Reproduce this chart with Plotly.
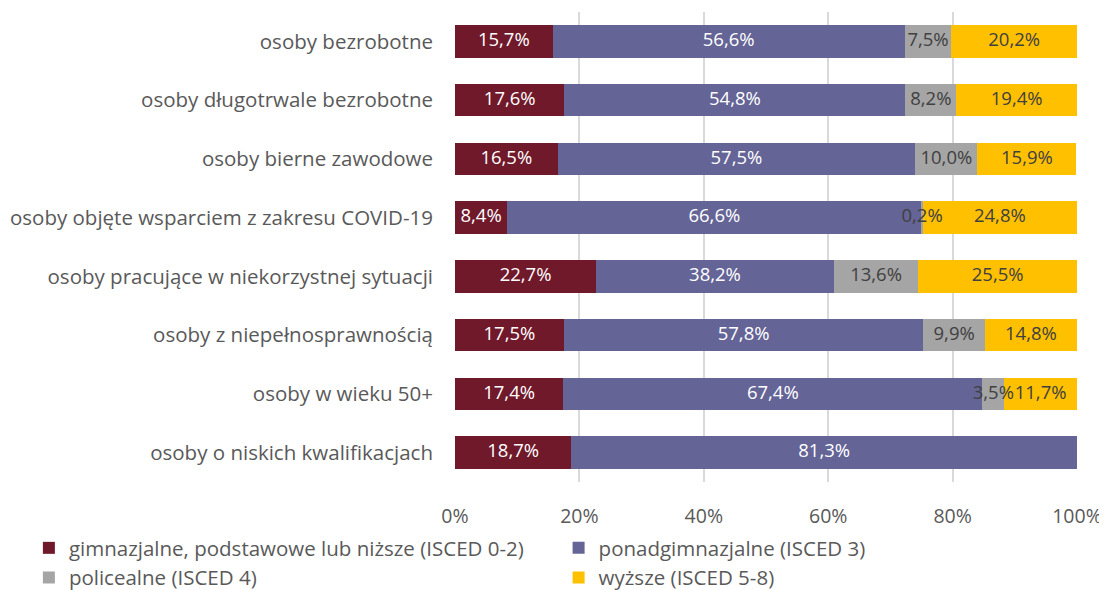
import plotly.graph_objects as go

categories = [
    "osoby bezrobotne",
    "osoby długotrwale bezrobotne",
    "osoby bierne zawodowe",
    "osoby objęte wsparciem z zakresu COVID-19",
    "osoby pracujące w niekorzystnej sytuacji",
    "osoby z niepełnosprawnością",
    "osoby w wieku 50+",
    "osoby o niskich kwalifikacjach",
]
series_names = [
    "gimnazjalne, podstawowe lub niższe (ISCED 0-2)",
    "ponadgimnazjalne (ISCED 3)",
    "policealne (ISCED 4)",
    "wyższe (ISCED 5-8)",
]
isced_0_2 = [15.7, 17.6, 16.5, 8.4, 22.7, 17.5, 17.4, 18.7]
isced_3 = [56.6, 54.8, 57.5, 66.6, 38.2, 57.8, 67.4, 81.3]
isced_4 = [7.5, 8.2, 10.0, 0.2, 13.6, 9.9, 3.5, None]
isced_5_8 = [20.2, 19.4, 15.9, 24.8, 25.5, 14.8, 11.7, None]
tick_vals = [0, 20, 40, 60, 80, 100]
tick_text = ["0%", "20%", "40%", "60%", "80%", "100%"]

colors = ["#70192B", "#646496", "#A5A5A5", "#FFC000"]
text_colors = ["#FFFFFF", "#FFFFFF", "#404040", "#404040"]
legend_ids = ["legend", "legend2", "legend", "legend2"]
FONT = "Open Sans"

all_series = [isced_0_2, isced_3, isced_4, isced_5_8]

fig = go.Figure()
for name, vals, c, lg in zip(series_names, all_series, colors, legend_ids):
    fig.add_trace(go.Bar(
        y=categories, x=vals, name=name, orientation="h",
        marker=dict(color=c, line=dict(width=0)),
        legend=lg, hoverinfo="x+y+name",
    ))

# data labels: centred on each segment, drawn above all bars
base = [0.0] * len(categories)
for vals, tc in zip(all_series, text_colors):
    xs, ys, ts = [], [], []
    for i, v in enumerate(vals):
        if v is None:
            continue
        xs.append(base[i] + v / 2)
        ys.append(categories[i])
        ts.append(f"{v:.1f}%".replace(".", ","))
        base[i] += v
    fig.add_trace(go.Scatter(
        x=xs, y=ys, text=ts, mode="text", showlegend=False,
        textposition="middle center", cliponaxis=False,
        textfont=dict(color=tc, size=18.5, family=FONT), hoverinfo="skip",
    ))

fig.update_layout(
    barmode="stack",
    bargap=0.45,
    width=1099, height=582,
    margin=dict(l=447, r=30, t=4, b=108, autoexpand=False),
    plot_bgcolor="white", paper_bgcolor="white",
    font=dict(family=FONT, size=19, color="#595959"),
    xaxis=dict(range=[0, 100], tickvals=tick_vals, ticktext=tick_text,
               showgrid=True, gridcolor="#D9D9D9", gridwidth=2, automargin=False,
               zeroline=False, showline=False, ticks="", ticklabelstandoff=20,
               tickangle=0, tickfont=dict(size=19.5, color="#595959")),
    yaxis=dict(categoryorder="array", categoryarray=categories, autorange="reversed",
               showgrid=False, ticks="", ticklabelstandoff=21, automargin=False,
               tickfont=dict(size=20.5, color="#595959")),
    legend=dict(orientation="v", xref="container", yref="container",
                x=0.019, y=0.1065, xanchor="left", yanchor="top",
                traceorder="normal", itemwidth=30, tracegroupgap=0,
                bgcolor="rgba(0,0,0,0)",
                font=dict(size=20.5, color="#595959")),
    legend2=dict(orientation="v", xref="container", yref="container",
                 x=0.501, y=0.1065, xanchor="left", yanchor="top",
                 traceorder="normal", itemwidth=30, tracegroupgap=0,
                 bgcolor="rgba(0,0,0,0)",
                 font=dict(size=20.5, color="#595959")),
    showlegend=True,
)

fig.write_html("out.html")
